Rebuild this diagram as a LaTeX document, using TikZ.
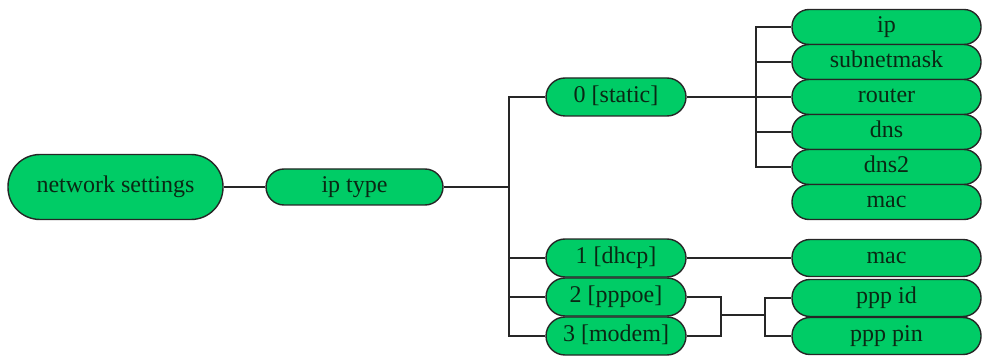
\documentclass[tikz,border=0pt]{standalone}
\usepackage{fontspec}
\setmainfont{Liberation Serif}
\usepackage{xcolor}
\usepackage{tikz}
\definecolor{nodegreen}{RGB}{0,204,102}
\definecolor{inkgreen}{RGB}{10,40,20}

\begin{document}
\begin{tikzpicture}[x=1pt,y=-1pt,
  pill/.style={draw=black!85,line width=1.4pt,fill=nodegreen,inner sep=0pt,
    rounded corners=17pt,font=\fontsize{24}{26}\selectfont,text=inkgreen,
    text height=16pt,text depth=5pt},
  mid/.style={pill,minimum width=140pt,minimum height=38pt,rounded corners=19pt},
  leaf/.style={pill,minimum width=189pt,minimum height=35pt},
  wire/.style={line width=2pt,black!85}]
  \useasboundingbox (0,0) rectangle (982,358);

  % root and first level
  \node[pill,minimum width=215pt,minimum height=65pt,rounded corners=32pt]
    (netset) at (115.5,187) {network settings};
  \node[pill,minimum width=177pt,minimum height=36pt,rounded corners=18pt]
    (iptype) at (354.5,187) {ip type};
  \draw[wire] (netset.east) -- (iptype.west);

  % ip type choices
  \node[mid] (static) at (616,97)  {0 [static]};
  \node[mid] (dhcp)   at (616,258) {1 [dhcp]};
  \node[mid] (pppoe)  at (616,297) {2 [pppoe]};
  \node[mid] (modem)  at (616,336) {3 [modem]};
  \coordinate (busa) at (509,187);
  \draw[wire] (iptype.east) -- (busa);
  \draw[wire] (static.west) -| (busa |- modem.west) -- (modem.west);
  \draw[wire] (dhcp.west) -- (busa |- dhcp.west);
  \draw[wire] (pppoe.west) -- (busa |- pppoe.west);

  % static fields
  \node[leaf] (ip)     at (886.5,27)  {ip};
  \node[leaf] (mask)   at (886.5,62)  {subnetmask};
  \node[leaf] (router) at (886.5,97)  {router};
  \node[leaf] (dns)    at (886.5,132) {dns};
  \node[leaf] (dnstwo) at (886.5,167) {dns2};
  \node[leaf] (mac)    at (886.5,202) {mac};
  \coordinate (busb) at (756,97);
  \draw[wire] (static.east) -- (router.west);
  \draw[wire] (ip.west) -| (busb |- dnstwo.west) -- (dnstwo.west);
  \draw[wire] (mask.west) -- (busb |- mask.west);
  \draw[wire] (dns.west) -- (busb |- dns.west);

  % dhcp and ppp fields
  \node[leaf,minimum height=37pt,rounded corners=18pt] (macb)   at (886.5,258) {mac};
  \node[leaf,minimum height=37pt,rounded corners=18pt] (pppid)  at (886.5,298) {ppp id};
  \node[leaf,minimum height=37pt,rounded corners=18pt] (ppppin) at (886.5,336) {ppp pin};
  \draw[wire] (dhcp.east) -- (macb.west);
  \coordinate (joinl) at (721,315);
  \coordinate (joinr) at (765,315);
  \draw[wire] (pppoe.east) -| (joinl);
  \draw[wire] (modem.east) -| (joinl);
  \draw[wire] (joinl) -- (joinr);
  \draw[wire] (pppid.west) -| (joinr);
  \draw[wire] (ppppin.west) -| (joinr);
\end{tikzpicture}
\end{document}
